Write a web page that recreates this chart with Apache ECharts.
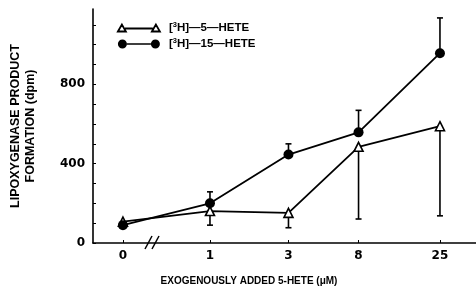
<!DOCTYPE html>
<html>
<head>
<meta charset="utf-8">
<script src="https://cdn.jsdelivr.net/npm/echarts@6/dist/echarts.min.js"></script>
<style>
  html, body { margin: 0; padding: 0; background: #fff; }
  #chart { width: 476px; height: 292px; }
</style>
</head>
<body>
<div id="chart"></div>
<script>
  // doses of 5-HETE (uM); x axis is log spaced, 0 sits left of the break
  const doses = [0, 1, 3, 8, 25];
  const doseLabels = ["0", "1", "3", "8", "25"];
  // [3H]-5-HETE (triangles), error bars go down
  const hete5 = [108, 161, 152, 485, 589];
  const hete5Low = [108, 90, 77, 121, 137];
  // [3H]-15-HETE (circles), error bars go up
  const hete15 = [90, 200, 446, 558, 957];
  const hete15High = [90, 258, 500, 669, 1135];
  const yLabels = [0, 400, 800];

  const ZERO_POS = -0.529;
  const xPos = doses.map(d => d === 0 ? ZERO_POS : Math.log10(d));

  const FONT = "Liberation Sans";
  const NUMFONT = "DejaVu Sans";

  function errBars(vals, ends) {
    return vals.map((v, i) => [xPos[i], v, ends[i]]);
  }

  function renderErr(params, api) {
    const x = api.value(0);
    const p1 = api.coord([x, api.value(1)]);
    const p2 = api.coord([x, api.value(2)]);
    if (Math.abs(p1[1] - p2[1]) < 1) return;
    const s = { stroke: "#000", lineWidth: 1.6 };
    return {
      type: "group",
      children: [
        { type: "line", shape: { x1: p1[0], y1: p1[1], x2: p2[0], y2: p2[1] }, style: s },
        { type: "line", shape: { x1: p2[0] - 3, y1: p2[1], x2: p2[0] + 3, y2: p2[1] }, style: s }
      ]
    };
  }

  const legendNames = {
    "5": "[{sup|3}H]\u20145\u2014HETE",
    "15": "[{sup|3}H]\u201415\u2014HETE"
  };

  const chart = echarts.init(document.getElementById("chart"));
  chart.setOption({
    animation: false,
    grid: { left: 93, right: 0, top: 9, bottom: 49 },
    legend: {
      orient: "vertical",
      left: 112,
      top: 16,
      itemWidth: 42,
      itemHeight: 9,
      itemGap: 2,
      selectedMode: false,
      data: [
        {
          name: "5",
          icon: "path://M0,8 L4,1 L8,8 Z M8,4.9 L34,4.9 L34,5.1 L8,5.1 Z M34,8 L38,1 L42,8 Z",
          itemStyle: { color: "#fff", borderColor: "#000", borderWidth: 1.8 }
        },
        {
          name: "15",
          icon: "path://M0,4.5 A4.5,4.5 0 1,1 9,4.5 A4.5,4.5 0 1,1 0,4.5 Z M9,3.8 L33,3.8 L33,5.2 L9,5.2 Z M33,4.5 A4.5,4.5 0 1,1 42,4.5 A4.5,4.5 0 1,1 33,4.5 Z",
          itemStyle: { color: "#000" }
        }
      ],
      formatter: n => legendNames[n],
      textStyle: {
        fontFamily: FONT, fontWeight: "bold", fontSize: 11.5, color: "#000", lineHeight: 14,
        padding: [0, 0, 0, 4],
        rich: {
          sup: { fontFamily: FONT, fontWeight: "bold", fontSize: 7.5, color: "#000", padding: [0, 0, 6, 0] }
        }
      }
    },
    xAxis: {
      type: "value",
      min: -0.711,
      max: 1.617,
      name: "EXOGENOUSLY ADDED 5-HETE (\u03BCM)",
      nameLocation: "middle",
      nameGap: 33,
      nameTextStyle: {
        fontFamily: FONT, fontWeight: "bold", fontSize: 10, color: "#000",
        padding: [0, 71, 0, 0]
      },
      axisLine: { lineStyle: { color: "#000", width: 1.6 } },
      axisTick: { inside: true, length: 3, customValues: xPos, lineStyle: { color: "#000" } },
      axisLabel: {
        customValues: xPos,
        margin: 7,
        fontFamily: NUMFONT, fontWeight: "bold", fontSize: 12, color: "#000",
        formatter: v => {
          const i = xPos.findIndex(p => Math.abs(p - v) < 1e-6);
          return i < 0 ? "" : doseLabels[i];
        }
      },
      splitLine: { show: false }
    },
    yAxis: {
      type: "value",
      min: 0,
      max: 1180,
      name: "LIPOXYGENASE PRODUCT\nFORMATION (dpm)",
      nameLocation: "middle",
      nameRotate: 90,
      nameGap: 55,
      nameTextStyle: {
        fontFamily: FONT, fontWeight: "bold", fontSize: 12.5, color: "#000", lineHeight: 15
      },
      axisLine: { show: true, onZero: false, lineStyle: { color: "#000", width: 1.6 } },
      axisTick: {
        inside: true, length: 3,
        customValues: [0, 100, 200, 300, 400, 500, 600, 700, 800, 900, 1000, 1100],
        lineStyle: { color: "#000" }
      },
      axisLabel: {
        customValues: yLabels,
        margin: 8,
        fontFamily: NUMFONT, fontWeight: "bold", fontSize: 12, color: "#000"
      },
      splitLine: { show: false }
    },
    graphic: [
      {
        type: "group",
        children: [
          { type: "line", shape: { x1: 145, y1: 249, x2: 152, y2: 236 }, style: { stroke: "#000", lineWidth: 1.5 } },
          { type: "line", shape: { x1: 152, y1: 249, x2: 159, y2: 236 }, style: { stroke: "#000", lineWidth: 1.5 } }
        ]
      }
    ],
    series: [
      {
        type: "custom",
        renderItem: renderErr,
        data: errBars(hete5, hete5Low),
        z: 1
      },
      {
        type: "custom",
        renderItem: renderErr,
        data: errBars(hete15, hete15High),
        z: 1
      },
      {
        name: "5",
        type: "line",
        data: hete5.map((v, i) => [xPos[i], v]),
        symbol: "triangle",
        symbolSize: 9,
        lineStyle: { color: "#000", width: 1.8 },
        itemStyle: { color: "#fff", borderColor: "#000", borderWidth: 1.6 },
        z: 2
      },
      {
        name: "15",
        type: "line",
        data: hete15.map((v, i) => [xPos[i], v]),
        symbol: "circle",
        symbolSize: 10,
        lineStyle: { color: "#000", width: 1.8 },
        itemStyle: { color: "#000" },
        z: 3
      }
    ]
  });
</script>
</body>
</html>
